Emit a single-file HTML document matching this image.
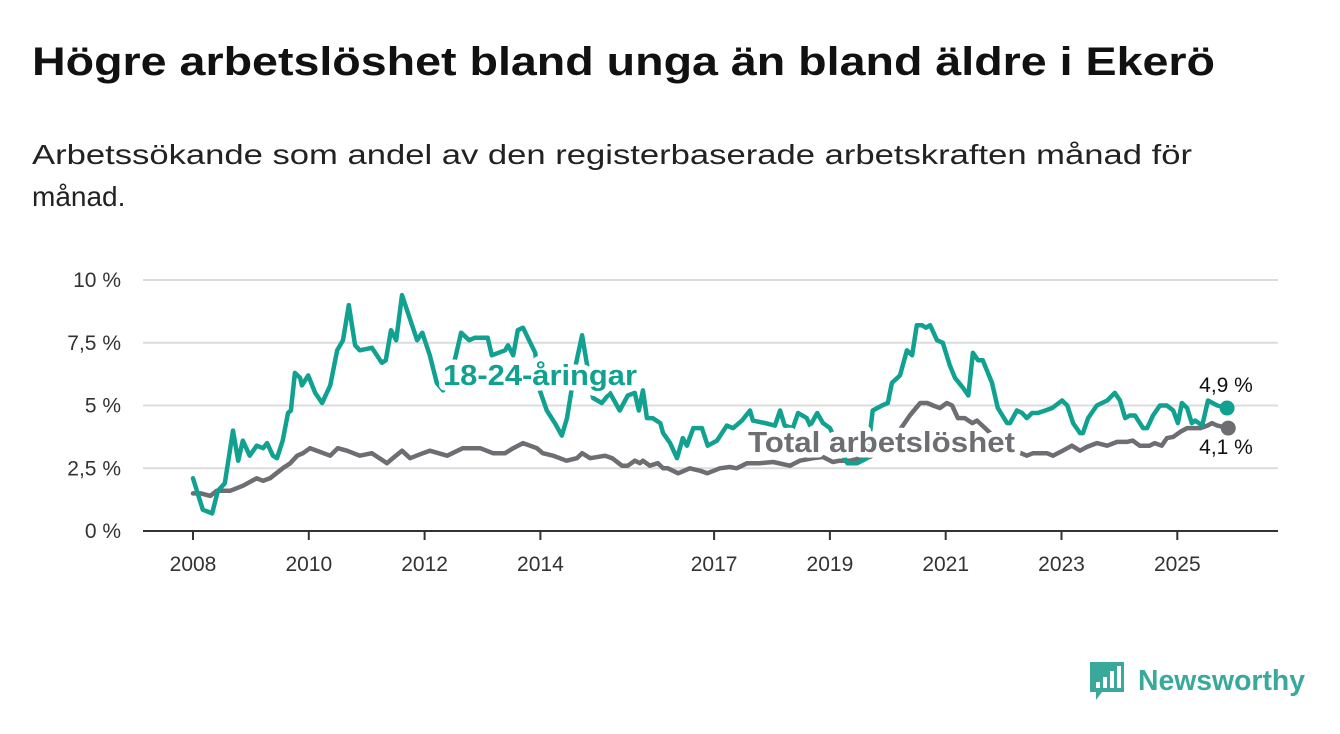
<!DOCTYPE html>
<html><head><meta charset="utf-8"><style>
html,body{margin:0;padding:0;background:#fff;width:1340px;height:734px;overflow:hidden}
svg{display:block;font-family:"Liberation Sans",sans-serif}
</style></head><body>
<svg id="chart" width="1340" height="734" viewBox="0 0 1340 734">
<text x="32" y="75" font-size="40" font-weight="bold" fill="#111" textLength="1183" lengthAdjust="spacingAndGlyphs">Högre arbetslöshet bland unga än bland äldre i Ekerö</text>
<text x="32" y="164" font-size="28" fill="#222" textLength="1160" lengthAdjust="spacingAndGlyphs">Arbetssökande som andel av den registerbaserade arbetskraften månad för</text>
<text x="32" y="206" font-size="28" fill="#222">månad.</text>
<g id="grid"></g>
<g id="yaxis"></g>
<g id="xaxis"></g>
<g id="series"></g>
<g id="labels"></g>
<g>
<path d="M1090 662 h34 v30 h-22 l-6 8 v-8 h-6 z" fill="#3aa99b"/>
<rect x="1096" y="682" width="4" height="6" fill="#fff"/><rect x="1103" y="677" width="4" height="11" fill="#fff"/><rect x="1110" y="671" width="4" height="17" fill="#fff"/><rect x="1117" y="666" width="4" height="22" fill="#fff"/>
<text x="1138" y="690" font-size="29" font-weight="bold" fill="#3aa99b" textLength="167" lengthAdjust="spacingAndGlyphs">Newsworthy</text>
</g>
</svg>
<script>
const yTicks=[0,2.5,5,7.5,10];
const yTickLabels=["0 %","2,5 %","5 %","7,5 %","10 %"];
const xTicks=[2008,2010,2012,2014,2017,2019,2021,2023,2025];
const youngYears=[0,0.17,0.33,0.43,0.55,0.69,0.78,0.86,0.98,1.10,1.21,1.28,1.38,1.45,1.55,1.64,1.69,1.76,1.85,1.88,1.99,2.11,2.23,2.37,2.49,2.59,2.69,2.80,2.88,3.09,3.26,3.33,3.42,3.51,3.61,3.87,3.96,4.09,4.21,4.32,4.53,4.63,4.77,4.87,5.09,5.16,5.39,5.44,5.53,5.61,5.70,5.91,5.99,6.11,6.25,6.37,6.46,6.60,6.72,6.80,6.91,7.06,7.20,7.37,7.51,7.63,7.70,7.77,7.84,7.94,8.07,8.12,8.24,8.36,8.46,8.53,8.64,8.79,8.89,9.05,9.22,9.33,9.48,9.62,9.67,9.88,10.05,10.14,10.22,10.36,10.45,10.60,10.66,10.78,10.88,11.00,11.17,11.30,11.47,11.64,11.74,11.90,12.00,12.07,12.21,12.33,12.42,12.50,12.59,12.66,12.73,12.85,12.95,13.07,13.16,13.30,13.39,13.47,13.56,13.64,13.80,13.90,14.06,14.11,14.23,14.32,14.40,14.49,14.59,14.72,14.84,15.01,15.10,15.20,15.32,15.37,15.46,15.61,15.79,15.92,16.01,16.10,16.18,16.27,16.41,16.48,16.58,16.70,16.82,16.93,17.01,17.08,17.17,17.25,17.31,17.43,17.53,17.69,17.86];
const youngValues=[2.1,0.85,0.7,1.6,1.9,4.0,2.8,3.6,3.0,3.4,3.3,3.5,3.0,2.9,3.6,4.7,4.8,6.3,6.1,5.8,6.2,5.5,5.1,5.8,7.2,7.6,9.0,7.4,7.2,7.3,6.7,6.8,8.0,7.6,9.4,7.6,7.9,7.0,5.9,5.6,6.9,7.9,7.6,7.7,7.7,7.0,7.2,7.4,7.0,8.0,8.1,7.1,5.6,4.8,4.3,3.8,4.5,6.5,7.8,6.7,5.3,5.1,5.5,4.8,5.4,5.5,4.8,5.6,4.5,4.5,4.3,3.9,3.5,2.9,3.7,3.4,4.1,4.1,3.4,3.6,4.2,4.1,4.4,4.8,4.4,4.3,4.2,4.8,4.2,4.1,4.7,4.5,4.2,4.7,4.3,4.1,3.3,2.7,2.7,2.9,4.8,5.0,5.1,5.9,6.2,7.2,7.0,8.2,8.2,8.1,8.2,7.6,7.5,6.6,6.1,5.7,5.4,7.1,6.8,6.8,5.9,4.9,4.3,4.3,4.8,4.7,4.5,4.7,4.7,4.8,4.9,5.2,5.0,4.3,3.9,3.9,4.5,5.0,5.2,5.5,5.2,4.5,4.6,4.6,4.1,4.1,4.6,5.0,5.0,4.8,4.3,5.1,4.9,4.3,4.4,4.2,5.2,5.0,4.9];
const totalYears=[0,0.14,0.30,0.41,0.64,0.86,1.10,1.21,1.33,1.55,1.68,1.80,1.90,2.02,2.14,2.37,2.50,2.66,2.88,3.09,3.35,3.45,3.61,3.75,3.97,4.09,4.39,4.66,4.84,4.96,5.18,5.39,5.53,5.70,5.94,6.04,6.22,6.45,6.63,6.72,6.86,7.12,7.24,7.41,7.51,7.63,7.72,7.77,7.89,8.03,8.12,8.20,8.38,8.58,8.76,8.88,9.10,9.27,9.39,9.57,9.79,10.02,10.31,10.48,10.71,10.88,11.05,11.17,11.35,11.52,11.69,11.90,12.20,12.26,12.38,12.56,12.68,12.78,12.90,13.02,13.11,13.21,13.33,13.46,13.54,13.68,14.00,14.30,14.40,14.51,14.63,14.75,14.85,15.02,15.18,15.32,15.44,15.61,15.79,15.96,16.13,16.23,16.35,16.52,16.61,16.73,16.82,16.93,17.05,17.17,17.40,17.52,17.60,17.69,17.88];
const totalValues=[1.5,1.5,1.4,1.6,1.6,1.8,2.1,2.0,2.1,2.5,2.7,3.0,3.1,3.3,3.2,3.0,3.3,3.2,3.0,3.1,2.7,2.9,3.2,2.9,3.1,3.2,3.0,3.3,3.3,3.3,3.1,3.1,3.3,3.5,3.3,3.1,3.0,2.8,2.9,3.1,2.9,3.0,2.9,2.6,2.6,2.8,2.7,2.8,2.6,2.7,2.5,2.5,2.3,2.5,2.4,2.3,2.5,2.55,2.5,2.7,2.7,2.75,2.6,2.8,2.9,2.95,2.75,2.8,2.8,2.9,2.95,3.3,4.0,4.2,4.6,5.1,5.1,5.0,4.9,5.1,5.0,4.5,4.5,4.3,4.4,4.1,3.4,3.1,3.0,3.1,3.1,3.1,3.0,3.2,3.4,3.2,3.35,3.5,3.4,3.55,3.55,3.6,3.4,3.4,3.5,3.4,3.7,3.75,3.95,4.1,4.1,4.2,4.3,4.2,4.1];
const baseYear=2008;
const NS="http://www.w3.org/2000/svg";
const xs=t=>193+(t-2008)*57.9;
const ys=v=>531-v*25.1;
function mk(tag,attrs,parent){const e=document.createElementNS(NS,tag);for(const k in attrs)e.setAttribute(k,attrs[k]);parent.appendChild(e);return e;}
const grid=document.getElementById('grid'),yaxis=document.getElementById('yaxis'),xaxis=document.getElementById('xaxis'),series=document.getElementById('series'),labels=document.getElementById('labels');
yTicks.forEach((v,i)=>{
 if(v>0){const g=mk('line',{x1:143,x2:1278,y1:ys(v),y2:ys(v),stroke:'#dcdcdc','stroke-width':2},grid);
 
 }
 const t=mk('text',{x:121,y:ys(v)+7,'font-size':21,fill:'#333','text-anchor':'end'},yaxis);t.textContent=yTickLabels[i];
 
 
});
const ax=mk('line',{x1:143,x2:1278,y1:531,y2:531,stroke:'#333','stroke-width':2},xaxis);


xTicks.forEach(y=>{
 const tk=mk('line',{x1:xs(y),x2:xs(y),y1:531,y2:540,stroke:'#333','stroke-width':2},xaxis);
 
 
 const t=mk('text',{x:xs(y),y:571,'font-size':21,fill:'#333','text-anchor':'middle'},xaxis);t.textContent=y;
 
 
});
function line(yrs,vals,color,name){
 const d=yrs.map((t,i)=>(i?'L':'M')+xs(baseYear+t).toFixed(1)+' '+ys(vals[i]).toFixed(1)).join(' ');
 const p=mk('path',{d:d,fill:'none',stroke:color,'stroke-width':4.5,'stroke-linejoin':'round','stroke-linecap':'round'},series);
 
 
 const n=yrs.length-1;
 const c=mk('circle',{cx:xs(baseYear+yrs[n]),cy:ys(vals[n]),r:7.5,fill:color},series);
 
 
}
line(totalYears,totalValues,'#6e6d72','total-line');
line(youngYears,youngValues,'#11a191','young-line');
const l1=mk('text',{x:443,y:385,'font-size':29,'font-weight':'bold',fill:'#11a191',stroke:'#fff','stroke-width':11,'paint-order':'stroke','stroke-linejoin':'round',textLength:194,lengthAdjust:'spacingAndGlyphs'},labels);l1.textContent='18-24-åringar';


const l2=mk('text',{x:748,y:452,'font-size':29,'font-weight':'bold',fill:'#6e6d72',stroke:'#fff','stroke-width':11,'paint-order':'stroke','stroke-linejoin':'round',textLength:267,lengthAdjust:'spacingAndGlyphs'},labels);l2.textContent='Total arbetslöshet';


const nY=youngValues.length-1,nT=totalValues.length-1;
const e1=mk('text',{x:1226,y:ys(youngValues[nY])-16,'font-size':21,fill:'#111','text-anchor':'middle',stroke:'#fff','stroke-width':5,'paint-order':'stroke'},labels);e1.textContent=String(youngValues[nY]).replace('.',',')+' %';


const e2=mk('text',{x:1226,y:ys(totalValues[nT])+26,'font-size':21,fill:'#111','text-anchor':'middle',stroke:'#fff','stroke-width':5,'paint-order':'stroke'},labels);e2.textContent=String(totalValues[nT]).replace('.',',')+' %';


</script>
</body></html>
